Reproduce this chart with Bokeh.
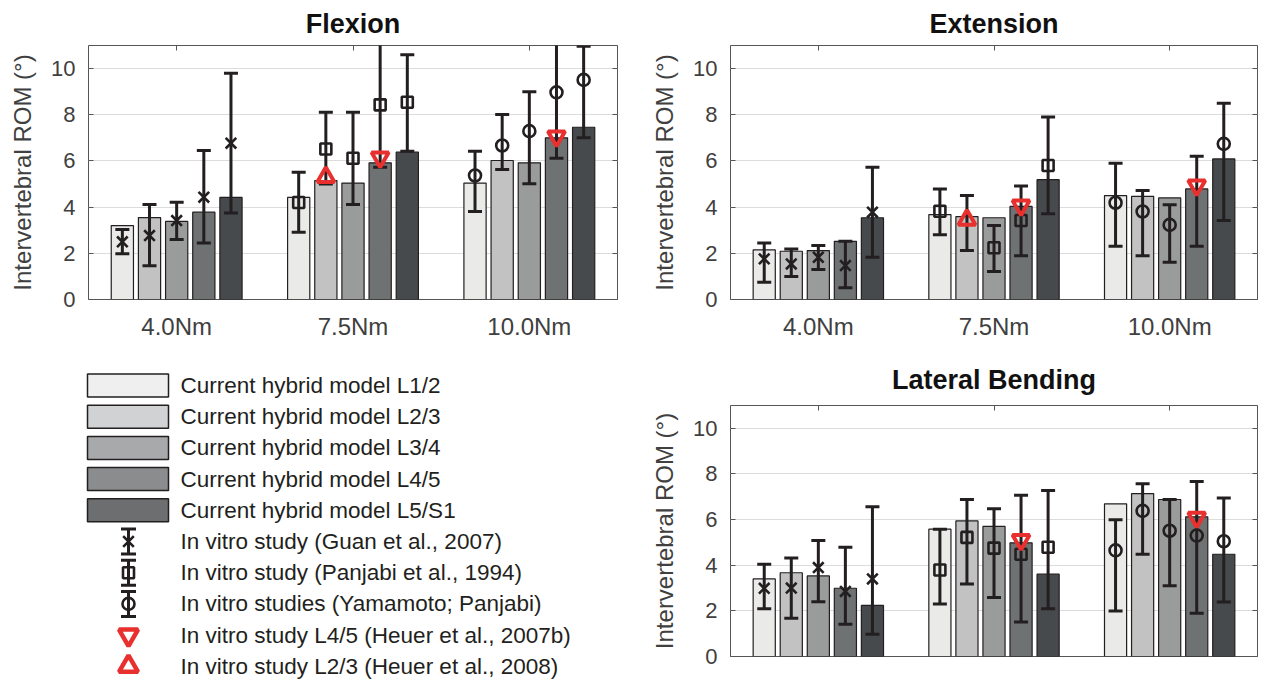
import numpy as np
from bokeh.plotting import figure
from bokeh.models import (ColumnDataSource, FactorRange, Range1d, FixedTicker, LinearAxis,
                          CategoricalAxis, Label)
from bokeh.transform import dodge, factor_mark
from bokeh.layouts import column, row
from bokeh.embed import file_html
from bokeh.resources import INLINE
from bokeh.core.properties import value

nan = float("nan")

# ---------------- data ----------------
loads = ["4.0Nm", "7.5Nm", "10.0Nm"]
levels = ["L1/2", "L2/3", "L3/4", "L4/5", "L5/S1"]
y_ticks = [0, 2, 4, 6, 8, 10]
study_markers = ["x", "square", "circle"]   # Guan (4.0Nm), Panjabi (7.5Nm), Yamamoto/Panjabi (10.0Nm)

# rows: loads, columns: levels
flex_model = [[3.20, 3.55, 3.38, 3.78, 4.42],
              [4.42, 5.15, 5.04, 5.92, 6.38],
              [5.04, 6.02, 5.92, 7.00, 7.46]]
flex_vitro = [[2.50, 2.77, 3.42, 4.43, 6.77],
              [4.20, 6.52, 6.12, 8.43, 8.54],
              [5.37, 6.67, 7.29, 8.97, 9.51]]
flex_lo = [[1.98, 1.46, 2.60, 2.45, 3.75],
           [2.91, 5.00, 4.11, 5.73, 6.42],
           [3.81, 5.63, 5.01, 6.12, 7.00]]
flex_hi = [[3.03, 4.11, 4.21, 6.45, 9.80],
           [5.51, 8.11, 8.11, 11.80, 10.60],
           [6.42, 8.01, 9.00, 11.80, 10.97]]
flex_heuer_l45 = [nan, 6.15, 7.06]
flex_heuer_l23 = [nan, 5.30, nan]

ext_model = [[2.15, 2.09, 2.12, 2.52, 3.54],
             [3.68, 3.59, 3.54, 4.03, 5.19],
             [4.50, 4.47, 4.40, 4.79, 6.09]]
ext_vitro = [[1.76, 1.54, 1.83, 1.47, 3.78],
             [3.82, nan, 2.24, 3.42, 5.80],
             [4.19, 3.81, 3.23, nan, 6.74]]
ext_lo = [[0.75, 1.00, 1.30, 0.51, 1.83],
          [2.80, 2.12, 1.21, 1.90, 3.71],
          [2.31, 1.90, 1.61, 2.31, 3.42]]
ext_hi = [[2.45, 2.19, 2.34, 2.52, 5.73],
          [4.79, 4.50, 3.20, 4.91, 7.90],
          [5.90, 4.72, 4.10, 6.20, 8.50]]
ext_heuer_l45 = [nan, 4.07, 4.94]
ext_heuer_l23 = [nan, 3.45, nan]

lat_model = [[3.40, 3.67, 3.53, 2.99, 2.24],
             [5.58, 5.94, 5.70, 4.98, 3.61],
             [6.69, 7.14, 6.88, 6.12, 4.48]]
lat_vitro = [[2.99, 3.00, 3.90, 2.85, 3.40],
             [3.79, 5.22, 4.75, 4.48, 4.79],
             [4.65, 6.38, 5.51, 5.30, 5.05]]
lat_lo = [[2.09, 1.68, 2.40, 1.41, 0.98],
          [2.30, 3.18, 2.59, 1.51, 2.09],
          [1.99, 4.48, 3.10, 1.89, 2.39]]
lat_hi = [[4.04, 4.32, 5.08, 4.79, 6.56],
          [5.58, 6.88, 6.48, 7.07, 7.27],
          [5.99, 7.57, 6.88, 7.67, 6.95]]
lat_heuer_l45 = [nan, 5.11, 6.09]
lat_heuer_l23 = [nan, nan, nan]

legend_labels = ["Current hybrid model L1/2", "Current hybrid model L2/3",
                 "Current hybrid model L3/4", "Current hybrid model L4/5",
                 "Current hybrid model L5/S1",
                 "In vitro study (Guan et al., 2007)",
                 "In vitro study (Panjabi et al., 1994)",
                 "In vitro studies (Yamamoto; Panjabi)",
                 "In vitro study L4/5 (Heuer et al., 2007b)",
                 "In vitro study L2/3 (Heuer et al., 2008)"]

# ---------------- style ----------------
FONT = "Liberation Sans"
bar_colors = ["#eaeae9", "#c1c2c1", "#9a9b9b", "#6f7272", "#474a4d"]
legend_colors = ["#efefef", "#d1d2d3", "#a8a9ab", "#8a8c8e", "#6d6e70"]
marker_sizes = {"x": 15, "square": 11, "circle": 12}
DARK = "#231f20"
RED = "#e8312f"
AX = "#555555"
TXT = "#404040"
offsets = [-0.308, -0.154, 0.0, 0.154, 0.308]
BAR_W = 0.126


def hidden_label_kw():
    return dict(major_label_text_font_size="0px", major_label_text_color=None,
                major_label_standoff=0)


def make_panel(title, model, vitro, lo, hi, h45, h23, width, height,
               bl, br, bt, bb, title_standoff, axis_labels=True):
    p = figure(x_range=FactorRange(factors=loads), y_range=Range1d(0, 11),
               width=width, height=height, output_backend="svg",
               toolbar_location=None, min_border_left=bl, min_border_right=br,
               min_border_top=bt, min_border_bottom=bb)
    p.frame_align = False
    p.title.text = title
    p.title.align = "center"
    p.title.text_font = FONT
    p.title.text_font_size = "27px"
    p.title.text_font_style = "bold"
    p.title.text_color = "#111111"
    p.title.standoff = title_standoff
    p.outline_line_color = AX
    p.outline_line_width = 1

    M = np.array(model).T
    V = np.array(vitro).T
    L = np.array(lo).T
    H = np.array(hi).T
    data = dict(load=loads, h45=h45, h23=h23,
                msize=[marker_sizes[m] for m in study_markers])
    for j in range(len(levels)):
        data[f"m{j}"] = M[j]
        data[f"v{j}"] = V[j]
        data[f"lo{j}"] = L[j]
        data[f"hi{j}"] = H[j]
    src = ColumnDataSource(data)

    for j in range(len(levels)):
        xj = dodge("load", offsets[j], range=p.x_range)
        p.vbar(x=xj, top=f"m{j}", bottom=0, width=BAR_W, source=src,
               fill_color=bar_colors[j], line_color=DARK, line_width=1.2)
    for j in range(len(levels)):
        xj = dodge("load", offsets[j], range=p.x_range)
        p.segment(x0=xj, y0=f"lo{j}", x1=xj, y1=f"hi{j}", source=src,
                  line_color=DARK, line_width=3)
        for col in (f"lo{j}", f"hi{j}"):
            p.scatter(x=xj, y=col, marker="dash", size=14, source=src,
                      line_color=DARK, line_width=3)
        p.scatter(x=xj, y=f"v{j}", source=src,
                  marker=factor_mark("load", study_markers, loads),
                  size="msize", line_color=DARK, line_width=2.6, fill_color=None)
    p.scatter(x=dodge("load", offsets[3], range=p.x_range), y="h45", source=src,
              marker="inverted_triangle", size=17, line_color=RED, line_width=4,
              fill_color=None)
    p.scatter(x=dodge("load", offsets[1], range=p.x_range), y="h23", source=src,
              marker="triangle", size=17, line_color=RED, line_width=4,
              fill_color=None)

    # axes
    p.xgrid.visible = False
    p.ygrid.grid_line_color = "#dcdcdc"
    p.ygrid.grid_line_width = 1
    yax = p.yaxis[0]
    yax.ticker = FixedTicker(ticks=y_ticks)
    yax.axis_label = "Intervertebral ROM (°)"
    yax.axis_label_text_font = FONT
    yax.axis_label_text_font_size = "24px"
    yax.axis_label_text_font_style = "normal"
    yax.axis_label_text_color = TXT
    yax.axis_label_standoff = 12
    yax.major_label_text_font = FONT
    yax.major_label_text_font_size = "22px"
    yax.major_label_text_color = TXT
    yax.major_label_standoff = 13
    yax.major_tick_in = 5
    yax.major_tick_out = 0
    yax.minor_tick_line_color = None
    yax.major_tick_line_color = AX
    yax.axis_line_color = None

    xax = p.xaxis[0]
    xax.major_tick_in = 0
    xax.major_tick_out = 0
    xax.axis_line_color = None
    if axis_labels:
        xax.major_label_text_font = FONT
        xax.major_label_text_font_size = "24px"
        xax.major_label_text_color = TXT
        xax.major_label_standoff = 13
    else:
        xax.major_label_text_font_size = "0px"
        xax.major_label_text_color = None
        xax.major_label_standoff = 0
        for k, ld in enumerate(loads):
            p.add_layout(Label(x=k + 0.5, y=0, y_offset=-15, text=ld,
                               text_font=FONT, text_font_size="24px",
                               text_color=TXT, text_align="center",
                               text_baseline="top"))

    rax = LinearAxis(ticker=FixedTicker(ticks=y_ticks), major_tick_in=5,
                     major_tick_out=0, axis_line_color=None,
                     minor_tick_line_color=None, major_tick_line_color=AX,
                     **hidden_label_kw())
    p.add_layout(rax, "right")
    tax = CategoricalAxis(major_tick_in=5, major_tick_out=0,
                          axis_line_color=None, major_tick_line_color=AX,
                          **hidden_label_kw())
    p.add_layout(tax, "above")
    return p


TOP_H = 352
p_flex = make_panel("Flexion", flex_model, flex_vitro, flex_lo, flex_hi,
                    flex_heuer_l45, flex_heuer_l23, 642, TOP_H, 88, 25, 45, TOP_H - 299, 13)
p_ext = make_panel("Extension", ext_model, ext_vitro, ext_lo, ext_hi,
                   ext_heuer_l45, ext_heuer_l23, 616, TOP_H, 88, 1, 45, TOP_H - 299, 13)
p_lat = make_panel("Lateral Bending", lat_model, lat_vitro, lat_lo, lat_hi,
                   lat_heuer_l45, lat_heuer_l23, 616, 681 - TOP_H, 88, 1,
                   403 - TOP_H, 25, 21, axis_labels=False)

# ---------------- legend panel ----------------
leg = figure(width=642, height=681 - TOP_H, x_range=Range1d(0, 642),
             y_range=Range1d(681, TOP_H),
             output_backend="svg", toolbar_location=None,
             min_border_left=0, min_border_right=0, min_border_top=0, min_border_bottom=0,
             x_axis_type=None, y_axis_type=None, outline_line_color=None)
leg.frame_align = False
leg.grid.visible = False
row_y = [385 + 31.2 * i for i in range(len(legend_labels))]
icon_x = 128
leg.rect(x=[icon_x - 0.5] * 5, y=row_y[:5], width=81, height=23,
         fill_color=legend_colors, line_color=DARK, line_width=1.5)
for i, mk in zip(range(5, 8), study_markers):
    yc = row_y[i]
    leg.segment(x0=[icon_x], y0=[yc - 12.5], x1=[icon_x], y1=[yc + 12.5],
                line_color=DARK, line_width=3)
    leg.scatter(x=[icon_x, icon_x], y=[yc - 12.5, yc + 12.5], marker="dash",
                size=15, line_color=DARK, line_width=3)
    leg.scatter(x=[icon_x], y=[yc], marker=mk, size=marker_sizes[mk], line_color=DARK,
                line_width=2.6, fill_color=None)
leg.scatter(x=[icon_x], y=[row_y[8]], marker="inverted_triangle", size=19,
            line_color=RED, line_width=4.5, fill_color=None)
leg.scatter(x=[icon_x], y=[row_y[9]], marker="triangle", size=19,
            line_color=RED, line_width=4.5, fill_color=None)
leg.text(x=[180] * len(legend_labels), y=row_y, text=legend_labels,
         text_font=value(FONT), text_font_size="22.5px", text_color=DARK,
         text_baseline="middle", text_align="left")

layout = column(row(p_flex, p_ext), row(leg, p_lat))

open("out.html", "w").write(file_html(layout, INLINE))
